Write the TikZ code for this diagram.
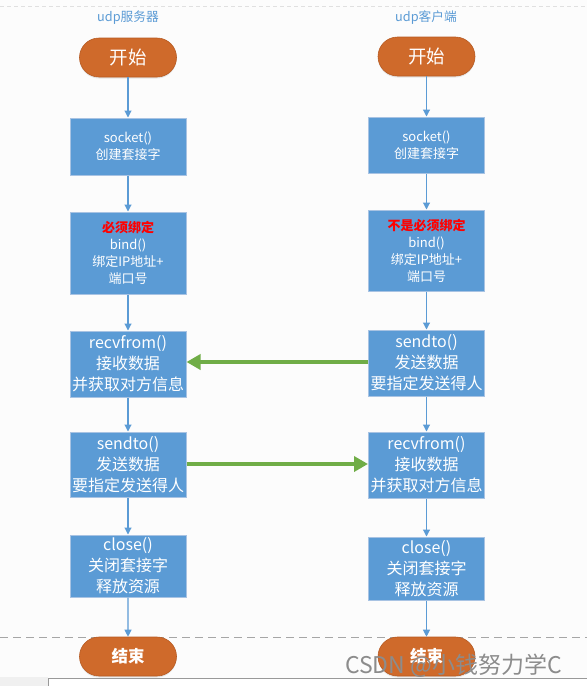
\documentclass[tikz,border=0pt]{standalone}
\usepackage{fontspec}
\setmainfont{Noto Sans CJK SC}
\usetikzlibrary{arrows.meta,shapes.misc,shadows}
\definecolor{boxblue}{HTML}{5B9BD5}
\definecolor{boxedge}{HTML}{A8C3E3}
\definecolor{startor}{HTML}{CF6A2B}
\definecolor{startedge}{HTML}{B65A22}
\definecolor{flowgreen}{HTML}{70AD47}
\definecolor{titleblue}{HTML}{5B9BD5}
\definecolor{bgcol}{HTML}{FCFCFC}
\tikzset{
  terminal/.style={rounded rectangle, fill=startor, draw=startedge, line width=0.6pt,
    minimum width=97pt, minimum height=39pt, inner sep=0pt, text=white,
    font=\fontsize{18.5}{20}\selectfont, drop shadow={shadow xshift=0pt, shadow yshift=-1.5pt, opacity=0.18}},
  procbox/.style={rectangle, fill=boxblue, draw=boxedge, line width=1pt,
    minimum width=116pt, inner sep=0pt, text=white, align=center},
  smalltxt/.style={font=\fontsize{13}{17}\selectfont},
  bigtxt/.style={font=\fontsize{16}{21}\selectfont},
  flow/.style={draw=boxblue, line width=1.1pt, -{Triangle[length=7pt,width=7pt]}},
  green/.style={draw=flowgreen, line width=4pt, -{Triangle[length=14pt,width=15pt]}},
  title/.style={text=titleblue, font=\fontsize{12.7}{14}\selectfont}
}
\begin{document}
\begin{tikzpicture}[x=1pt,y=-1pt]
\fill[bgcol] (0,0) rectangle (587,686);
\useasboundingbox (0,0) rectangle (587,686);
% dashed lines
\draw[draw=black!12, line width=0.7pt, dash pattern=on 4pt off 3pt] (0,6) -- (587,6);
\draw[draw=black!35, line width=0.8pt, dash pattern=on 8pt off 5pt] (0,637) -- (587,637);
% bottom strip
\fill[black!6] (0,677) rectangle (48,686);
\fill[white] (48,678) rectangle (587,686);
\draw[black!40, line width=0.8pt] (48,686) -- (48,678) -- (587,678);

% titles
\node[title] (tl) at (128,18) {udp服务器};
\node[title] (tr) at (426,18) {udp客户端};

% left column
\node[terminal] (ls) at (128,57.5) {开始};
\node[procbox, smalltxt, minimum height=57pt] (l1) at (128,146.5) {socket()\\创建套接字};
\node[procbox, smalltxt, minimum height=82pt] (l2) at (128,253) {{\color{red}\textbf{必须绑定}}\\bind()\\绑定IP地址+\\端口号};
\node[procbox, bigtxt, minimum height=66pt] (l3) at (128,364) {recvfrom()\\接收数据\\并获取对方信息};
\node[procbox, bigtxt, minimum height=65pt] (l4) at (128,464.5) {sendto()\\发送数据\\要指定发送得人};
\node[procbox, bigtxt, minimum height=62pt] (l5) at (128,566) {close()\\关闭套接字\\释放资源};

% right column
\node[terminal] (rs) at (426.5,56.5) {开始};
\node[procbox, smalltxt, minimum height=56pt] (r1) at (426.5,145) {socket()\\创建套接字};
\node[procbox, smalltxt, minimum height=81pt] (r2) at (426.5,250.5) {{\color{red}\textbf{不是必须绑定}}\\bind()\\绑定IP地址+\\端口号};
\node[procbox, bigtxt, minimum height=66pt] (r3) at (426.5,363) {sendto()\\发送数据\\要指定发送得人};
\node[procbox, bigtxt, minimum height=66pt] (r4) at (426.5,465) {recvfrom()\\接收数据\\并获取对方信息};
\node[procbox, bigtxt, minimum height=63pt] (r5) at (426.5,568.5) {close()\\关闭套接字\\释放资源};

% flow arrows
\draw[flow] (ls) -- (l1);
\draw[flow] (l1) -- (l2);
\draw[flow] (l2) -- (l3);
\draw[flow] (l3) -- (l4);
\draw[flow] (l4) -- (l5);
\draw[flow] (rs) -- (r1);
\draw[flow] (r1) -- (r2);
\draw[flow] (r2) -- (r3);
\draw[flow] (r3) -- (r4);
\draw[flow] (r4) -- (r5);

% end nodes
\node[terminal, font=\fontsize{16.5}{18}\selectfont\bfseries] (le) at (128,656.5) {结束};
\node[terminal, font=\fontsize{16.5}{18}\selectfont\bfseries] (re) at (426.5,656.5) {结束};
\draw[flow] (l5) -- (le);
\draw[flow] (r5) -- (re);

% green exchange arrows
\draw[green] (r3.west |- 0,362) -- (l3.east |- 0,362);
\draw[green] (l4.east |- 0,464) -- (r4.west |- 0,464);

% watermark
\node[text=black!45, font=\fontsize{23}{24}\selectfont, anchor=west, inner sep=0pt] (wm) at (345,666) {CSDN @小钱努力学C};
\end{tikzpicture}
\end{document}
